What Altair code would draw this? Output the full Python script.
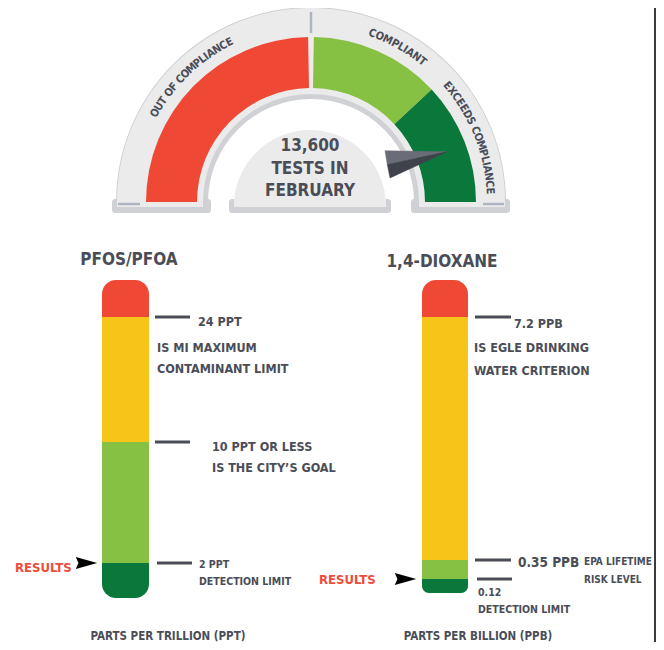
import math
import altair as alt
import pandas as pd

# ---------------- values read from the graphic ----------------
gauge_zone_names = ["OUT OF COMPLIANCE", "COMPLIANT", "EXCEEDS COMPLIANCE"]
gauge_zone_from = [-90, 1, 47]      # degrees, clockwise from 12 o'clock
gauge_zone_to = [-1, 47, 90]
tests_count = 13600
tests_month = "FEBRUARY"

pfos_title = "PFOS/PFOA"
pfos_unit = "PARTS PER TRILLION (PPT)"
pfos_levels = [0, 2, 10, 24, 30]          # band limits in ppt (last = top of tube)
pfos_result = 2
pfos_notes_value = [24, 24, 24, 10, 10, 2, 2]
pfos_notes_text = ["24 PPT", "IS MI MAXIMUM", "CONTAMINANT LIMIT",
                   "10 PPT OR LESS", "IS THE CITY\u2019S GOAL",
                   "2 PPT", "DETECTION LIMIT"]

diox_title = "1,4-DIOXANE"
diox_unit = "PARTS PER BILLION (PPB)"
diox_levels = [0, 0.12, 0.35, 7.2, 9]     # band limits in ppb (last = top of tube)
diox_result = 0.12
diox_notes_value = [7.2, 7.2, 7.2, 0.35, 0.35, 0.35, 0.12, 0.12]
diox_notes_text = ["7.2 PPB", "IS EGLE DRINKING", "WATER CRITERION",
                   "0.35 PPB", "EPA LIFETIME", "RISK LEVEL",
                   "0.12", "DETECTION LIMIT"]
result_label = "RESULTS"

# ---------------- style / layout ----------------
W, H = 648, 634
M = 8
FONT = ("Noto Sans ExtraCondensed, Noto Sans Condensed, Liberation Sans Narrow, "
        "DejaVu Sans Condensed, sans-serif")
TXT = "#4a4d57"
RED = "#ef4936"
LGREEN = "#87c144"
DGREEN = "#0a773b"
YELLOW = "#f7c518"
GRAY = "#ebebec"
SHADOW = "#d0d1d4"
TICK = "#adb5c1"
RESRED = "#ee4b3a"
band_colors = [DGREEN, LGREEN, YELLOW, RED]
zone_colors = [RED, LGREEN, DGREEN]

CX, CY = 311, 202
PX = alt.Scale(domain=[M, M + W], range=[0, W], nice=False, zero=False)
PY = alt.Scale(domain=[M, M + H], range=[0, H], nice=False, zero=False)
TH = alt.Scale(domain=[0, 360], range=[0, 2 * math.pi], nice=False, zero=False)

pfos_px = [598, 563, 442, 317, 280]
diox_px = [593, 579, 560, 317, 280]
YL = alt.Scale(domain=pfos_levels, range=[p - M for p in pfos_px], nice=False, zero=False)
YR = alt.Scale(domain=diox_levels, range=[p - M for p in diox_px], nice=False, zero=False)

NOTE = 12.5
SMALL = 10.5


def Xq(f):
    return alt.X(f, type="quantitative", scale=PX, axis=None)


def Yq(f, sc=PY):
    return alt.Y(f, type="quantitative", scale=sc, axis=None)


def rects(rows, **mk):
    df = pd.DataFrame(rows, columns=["x1", "x2", "y1", "y2", "c"])
    return alt.Chart(df).mark_rect(**mk).encode(
        x=Xq("x1"), x2="x2:Q", y=Yq("y1"), y2="y2:Q",
        color=alt.Color("c:N", scale=None))


def arcs(rows, **mk):
    df = pd.DataFrame(rows, columns=["cx", "cy", "r1", "r2", "t1", "t2", "c"])
    return alt.Chart(df).mark_arc(**mk).encode(
        x=Xq("cx"), y=Yq("cy"),
        theta=alt.Theta("t1:Q", scale=TH, stack=None), theta2="t2:Q",
        radius=alt.Radius("r2:Q", scale=None), radius2="r1:Q",
        color=alt.Color("c:N", scale=None))


def texts(rows, sc=PY, size=16, color=TXT, align="left", dy=0, weight="bold"):
    df = pd.DataFrame(rows, columns=["x", "y", "t"])
    return alt.Chart(df).mark_text(
        font=FONT, fontSize=size, fontWeight=weight, color=color,
        align=align, baseline="middle", dy=dy).encode(
        x=Xq("x"), y=Yq("y", sc), text="t:N")


def hrule(x1, x2, y, sc=PY, color=TXT, width=3):
    df = pd.DataFrame({"x1": [x1], "x2": [x2], "y": [y]})
    return alt.Chart(df).mark_rule(color=color, strokeWidth=width).encode(
        x=Xq("x1"), x2="x2:Q", y=Yq("y", sc))


def vrule(x, y1, y2, color=TXT, width=3):
    df = pd.DataFrame({"x": [x], "y1": [y1], "y2": [y2]})
    return alt.Chart(df).mark_rule(color=color, strokeWidth=width).encode(
        x=Xq("x"), y=Yq("y1"), y2="y2:Q")


layers = []

# frame line of the screenshot's right edge
layers.append(vrule(655, M, M + H, color="#3a3b3e", width=2))

# ---------- gauge backdrop ----------
layers.append(rects([[112, 211, 199, 213, SHADOW], [411, 510, 199, 213, SHADOW],
                     [229, 391, 199, 213, SHADOW]], cornerRadius=3))
layers.append(arcs([[CX, CY, 103, 195, -90, 90, SHADOW]]))
layers.append(arcs([[CX, CY, 108, 194, -90, 90, GRAY]]))
layers.append(rects([[117, 203, 199, 207, GRAY], [419, 505, 199, 207, GRAY],
                     [234, 386, 199, 207, GRAY]]))
layers.append(arcs([[310, 206, 0, 76, -90, 90, GRAY]]))

# coloured zones
zone_rows = [[CX, CY, 114, 165, a, b, c]
             for a, b, c in zip(gauge_zone_from, gauge_zone_to, zone_colors)]
layers.append(arcs(zone_rows))

# gauge ticks
layers.append(vrule(CX, 12, 33, color=TICK, width=2.5))
layers.append(hrule(118, 140, 204, color=TICK, width=2.5))
layers.append(hrule(483, 504, 204, color=TICK, width=2.5))

# curved zone labels, one character at a time along the arc
WID = {" ": 0.3, "I": 0.3, "M": 0.78, "O": 0.68, "C": 0.62, "A": 0.64, "N": 0.66,
       "D": 0.66, "U": 0.64, "T": 0.56, "F": 0.54, "L": 0.52, "P": 0.6, "E": 0.58,
       "X": 0.62, "S": 0.6}
label_span = [(-61.5, -26.0), (18.8, 39.5), (48.5, 87.5)]
arc_rows = []
for name, (t0, t1) in zip(gauge_zone_names, label_span):
    ws = [WID.get(ch, 0.6) for ch in name]
    tot = sum(ws)
    cum = 0.0
    for ch, w in zip(name, ws):
        th = t0 + (cum + w / 2) / tot * (t1 - t0)
        cum += w
        if ch != " ":
            arc_rows.append({"ch": ch, "th": th, "a": th % 360, "cx": CX, "cy": CY, "r": 179})
layers.append(alt.Chart(pd.DataFrame(arc_rows)).mark_text(
    font=FONT, fontSize=11, fontWeight="bold", color=TXT, baseline="middle", align="center"
).encode(
    x=Xq("cx"), y=Yq("cy"),
    theta=alt.Theta("th:Q", scale=TH, stack=None),
    radius=alt.Radius("r:Q", scale=None),
    angle=alt.Angle("a:Q", scale=None),
    text="ch:N"))

# centre text
layers.append(texts([[310, 146, f"{tests_count:,}"], [310, 169, "TESTS IN"],
                     [310, 191, tests_month]], size=17, align="center"))

# needle (polar points around the gauge centre)
needle_light = [(55.3, 90), (69.7, 145), (63.8, 85)]
needle_dark = [(63.8, 85), (69.7, 145), (73.1, 82.6)]
for pts, col in [(needle_light, "#6a6d77"), (needle_dark, "#3f424b")]:
    df = pd.DataFrame([{"x": CX + r * math.sin(math.radians(t)),
                        "y": CY - r * math.cos(math.radians(t)), "i": i}
                       for i, (t, r) in enumerate(pts)])
    layers.append(alt.Chart(df).mark_line(
        interpolate="linear-closed", fill=col, stroke=col, strokeWidth=0.5
    ).encode(x=Xq("x"), y=Yq("y"), order=alt.Order("i:Q")))

# ---------- titles ----------
layers.append(texts([[129, 260, pfos_title], [442, 262, diox_title]], size=17, align="center"))
layers.append(texts([[168, 637, pfos_unit], [478, 637, diox_unit]], size=11.5, align="center"))


# ---------- tubes ----------
def tube(levels, sc, x1, x2):
    out = []
    lo, hi = levels[:-1], levels[1:]
    for i in range(4):
        mk = {}
        if i == 0:
            mk = dict(cornerRadiusBottomLeft=14, cornerRadiusBottomRight=14)
        if i == 3:
            mk = dict(cornerRadiusTopLeft=14, cornerRadiusTopRight=14)
        df = pd.DataFrame({"x1": [x1], "x2": [x2], "lo": [lo[i]], "hi": [hi[i]],
                           "c": [band_colors[i]]})
        out.append(alt.Chart(df).mark_rect(**mk).encode(
            x=Xq("x1"), x2="x2:Q", y=Yq("hi", sc), y2="lo:Q",
            color=alt.Color("c:N", scale=None)))
    return out


layers += tube(pfos_levels, YL, 102, 149)
layers += tube(diox_levels, YR, 422, 468)

# threshold ticks
layers.append(hrule(155, 190, 24, sc=YL))
layers.append(hrule(155, 190, 10, sc=YL))
layers.append(hrule(157, 192, 2, sc=YL))
layers.append(hrule(475, 511, 7.2, sc=YR))
layers.append(hrule(475, 511, 0.35, sc=YR))
layers.append(hrule(477, 512, 0.12, sc=YR))

# notes
pfos_note_x = [198, 157, 157, 212, 212, 199, 199]
pfos_note_dy = [5, 31, 52, 5, 26, 2, 19]
pfos_note_size = [NOTE, NOTE, NOTE, NOTE, NOTE, SMALL, SMALL]
for v, t, x, dy, s in zip(pfos_notes_value, pfos_notes_text, pfos_note_x, pfos_note_dy, pfos_note_size):
    layers.append(texts([[x, v, t]], sc=YL, size=s, dy=dy))

diox_note_x = [514, 474, 474, 518, 584, 584, 478, 478]
diox_note_dy = [7, 31, 54, 3, 2, 20, 14, 31]
diox_note_size = [NOTE, NOTE, NOTE, 13.5, 10, 10, SMALL, SMALL]
for v, t, x, dy, s in zip(diox_notes_value, diox_notes_text, diox_note_x, diox_note_dy, diox_note_size):
    layers.append(texts([[x, v, t]], sc=YR, size=s, dy=dy))

# results markers
ARROW = "M-1,-0.55L1,0L-1,0.55L-0.75,0Z"
layers.append(texts([[15, pfos_result, result_label]], sc=YL, size=13, color=RESRED, dy=5))
layers.append(texts([[319, diox_result, result_label]], sc=YR, size=13, color=RESRED, dy=1))
for x, v, sc in [(86.5, pfos_result, YL), (405.5, diox_result, YR)]:
    df = pd.DataFrame({"x": [x], "v": [v]})
    layers.append(alt.Chart(df).mark_point(
        shape=ARROW, filled=True, color="#000000", opacity=1, size=460, strokeWidth=0
    ).encode(x=Xq("x"), y=Yq("v", sc)))

chart = alt.layer(*layers).resolve_scale(y="independent").properties(
    width=W, height=H, padding=0, autosize="none", background="white"
).configure_view(stroke=None)

chart.save("out.html", embed_options={"renderer": "svg", "actions": False})
